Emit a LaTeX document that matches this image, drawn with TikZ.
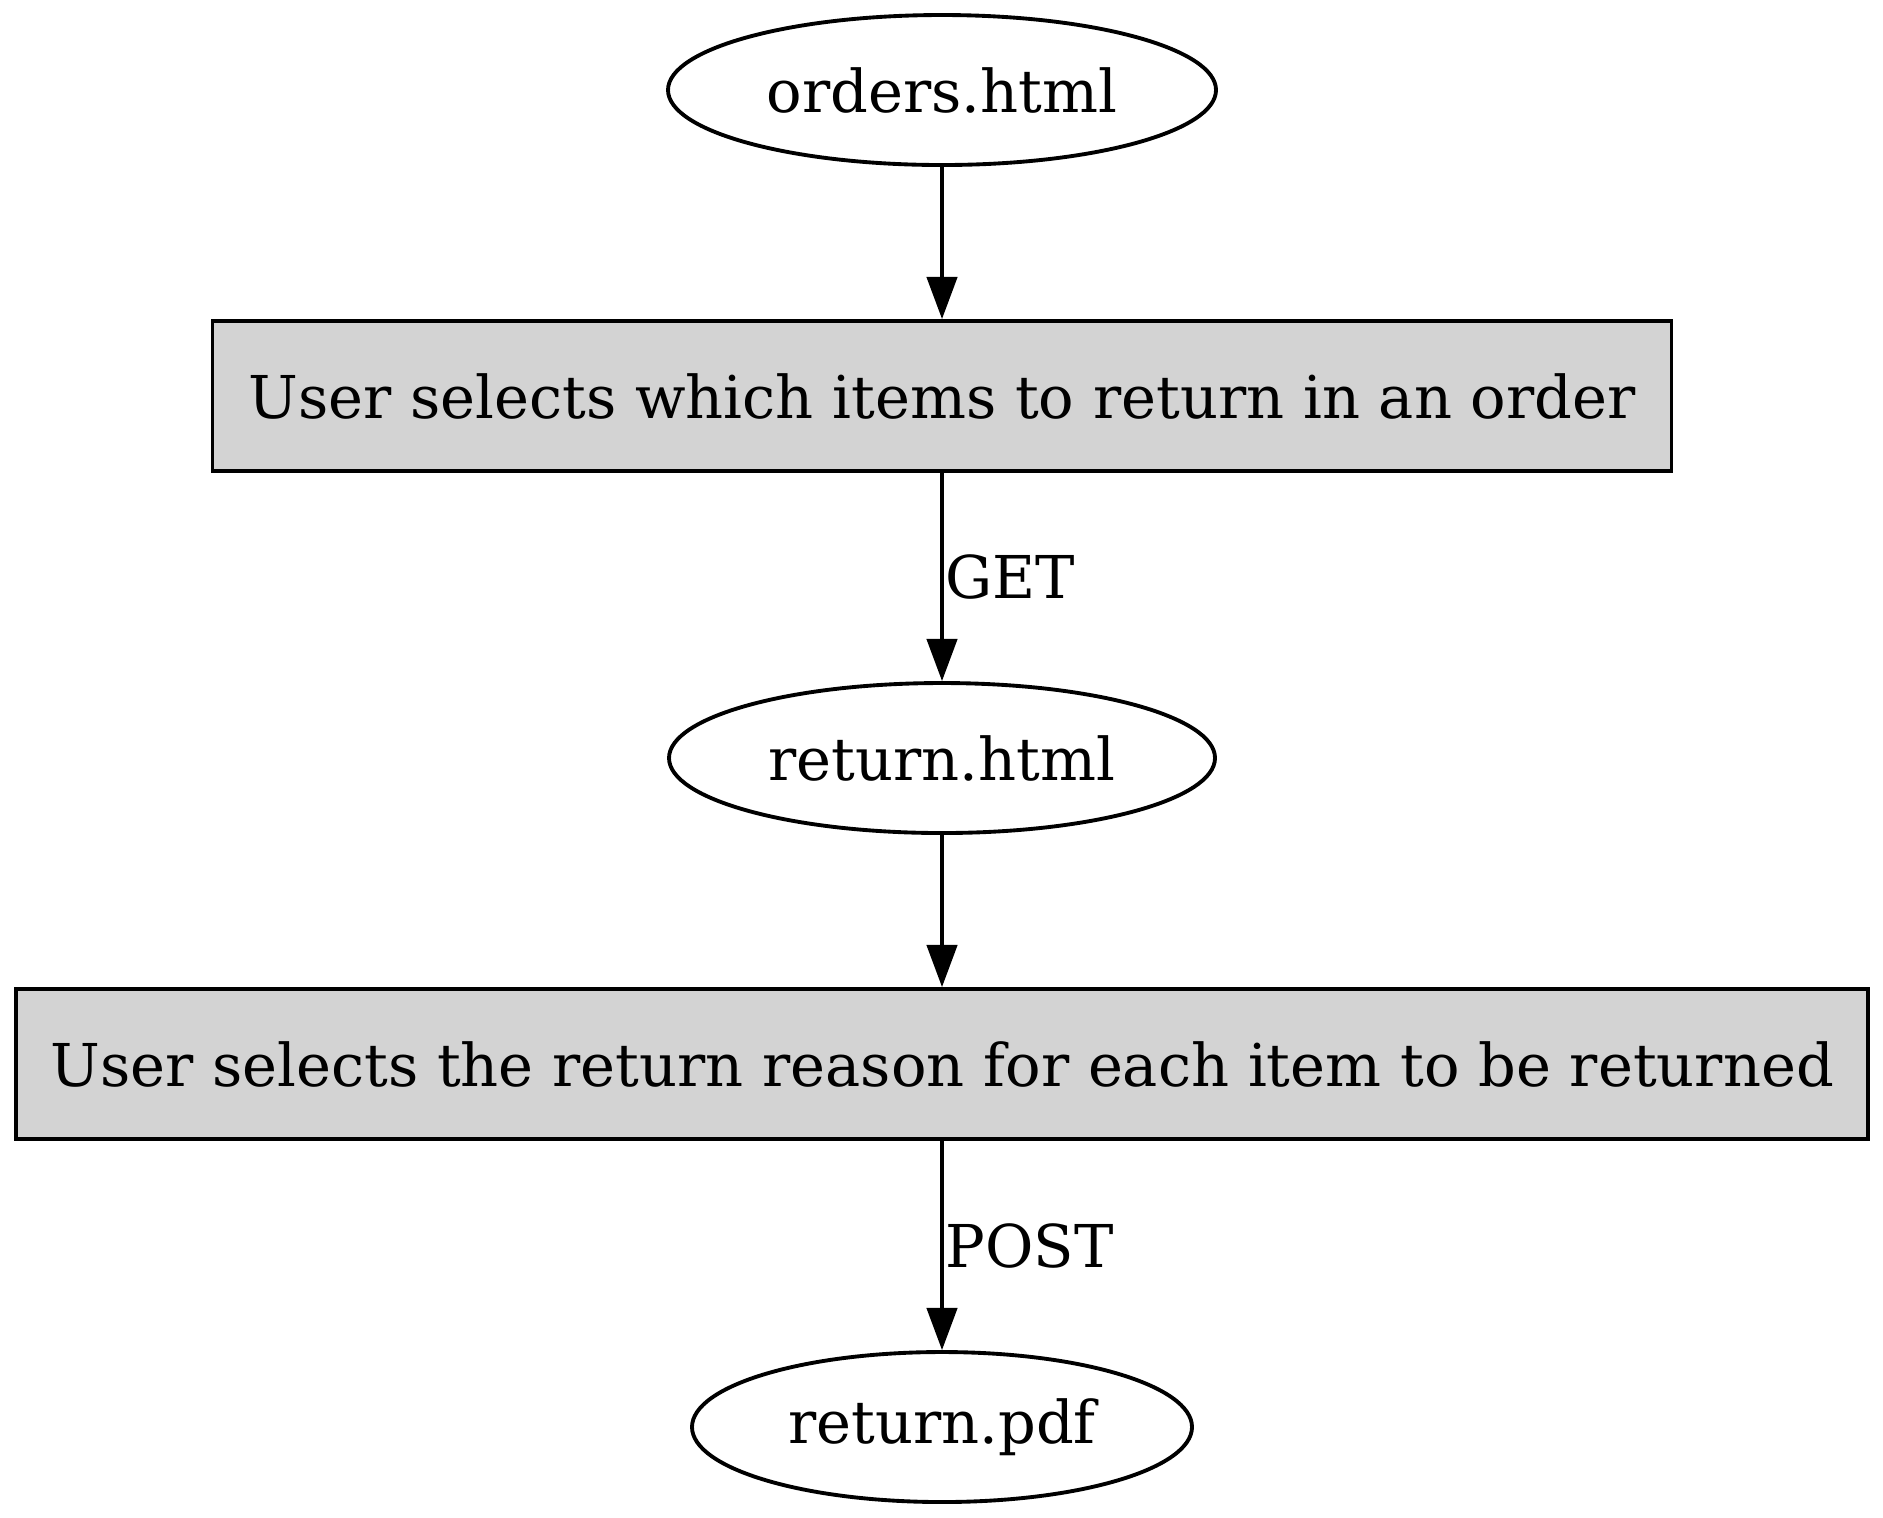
\documentclass[tikz,border=0pt]{standalone}
\usepackage{fontspec}
\setmainfont{DejaVu Serif}
\usetikzlibrary{shapes.geometric,positioning,arrows.meta}
\definecolor{boxgray}{HTML}{D3D3D3}

\begin{document}
\begin{tikzpicture}[node distance=3.06cm,on grid,auto,
   font=\fontsize{16.8}{20}\selectfont, line width=1.1pt,
   >={Triangle[length=12pt,width=8.6pt]},
   page/.style={ellipse, draw, minimum height=1.5cm, inner sep=0pt},
   action/.style={rectangle, draw, fill=boxgray, minimum height=1.5cm, inner sep=0pt},
   verb/.style={inner sep=0.5pt}]
   \useasboundingbox (0,0) rectangle (18.83,-15.17);
   \node[page, minimum width=5.48cm] (orders) at (9.42,-0.90) {orders.html};
   \node[action, minimum width=14.59cm] (pick)    [below=of orders]       {User selects which items to return in an order};
   \node[page, minimum width=5.46cm]   (retpage) [below=3.62cm of pick]   {return.html};
   \node[action, minimum width=18.52cm] (reason) [below=of retpage]      {User selects the return reason for each item to be returned};
   \node[page, minimum width=5.0cm]    (retpdf)  [below=3.63cm of reason] {return.pdf};
    \path[->]
    (orders)  edge (pick)
    (pick)    edge node[verb] {GET} (retpage)
    (retpage) edge (reason)
    (reason)  edge node[verb] {POST} (retpdf);
\end{tikzpicture}
\end{document}
